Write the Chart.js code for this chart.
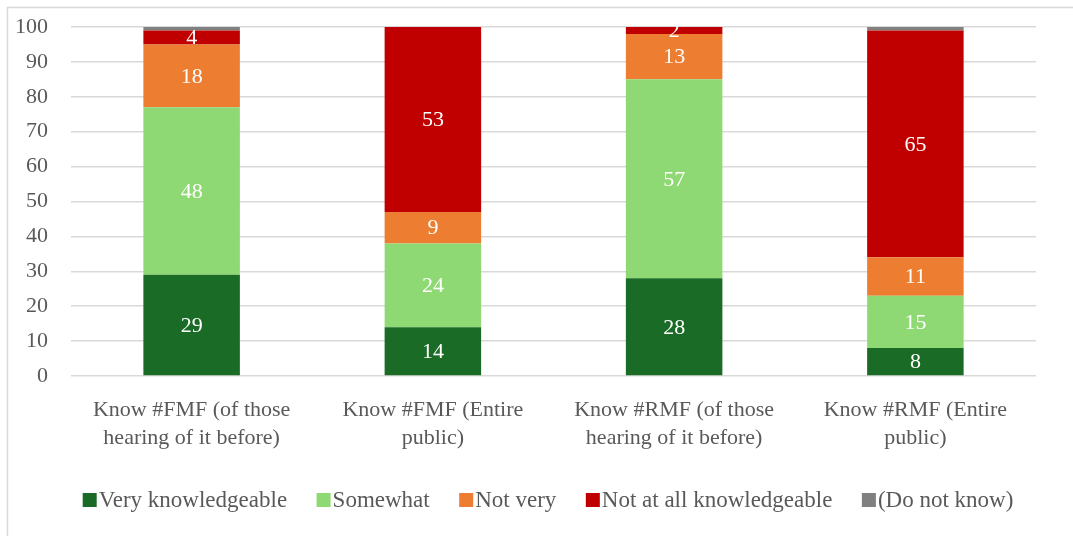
<!DOCTYPE html>
<html>
<head>
<meta charset="utf-8">
<script src="https://cdn.jsdelivr.net/npm/chart.js@4"></script>
<style>
  html, body { margin: 0; padding: 0; background: #ffffff; }
  canvas { display: block; }
</style>
</head>
<body>
<canvas id="chart" width="1073" height="536"></canvas>
<script>
// Knowledge of #FMF / #RMF, stacked percentages
const categories = [
  ["Know #FMF (of those", "hearing of it before)"],
  ["Know #FMF (Entire", "public)"],
  ["Know #RMF (of those", "hearing of it before)"],
  ["Know #RMF (Entire", "public)"]
];
const seriesNames = ["Very knowledgeable", "Somewhat", "Not very", "Not at all knowledgeable", "(Do not know)"];
const veryKnowledgeable = [29, 14, 28, 8];
const somewhat = [48, 24, 57, 15];
const notVery = [18, 9, 13, 11];
const notAtAll = [4, 53, 2, 65];
const doNotKnow = [1, 0, 0.5, 1];
const yMin = 0, yMax = 100, yStep = 10;

const seriesValues = [veryKnowledgeable, somewhat, notVery, notAtAll, doNotKnow];
const seriesColors = ["#1a6b25", "#8fd974", "#ed7d31", "#c00000", "#808080"];
const labelledSeries = [0, 1, 2, 3];

const FONT = '"Liberation Serif", "Times New Roman", serif';
const TEXT = "#595959";
const FONT_SIZE = 22;

// Outer frame lines
const framePlugin = {
  id: "frame",
  beforeDraw(chart) {
    const ctx = chart.ctx;
    ctx.save();
    ctx.strokeStyle = "#d9d9d9";
    ctx.lineWidth = 1.5;
    ctx.beginPath();
    ctx.moveTo(7.5, chart.height);
    ctx.lineTo(7.5, 7.5);
    ctx.lineTo(chart.width, 7.5);
    ctx.stroke();
    ctx.restore();
  }
};

// Value labels centred in each stacked segment
const valueLabels = {
  id: "valueLabels",
  afterDatasetsDraw(chart) {
    const ctx = chart.ctx;
    ctx.save();
    ctx.fillStyle = "#ffffff";
    ctx.font = FONT_SIZE + "px " + FONT;
    ctx.textAlign = "center";
    ctx.textBaseline = "middle";
    labelledSeries.forEach(di => {
      const meta = chart.getDatasetMeta(di);
      meta.data.forEach((bar, i) => {
        const v = chart.data.datasets[di].data[i];
        if (!v) return;
        ctx.fillText(String(v), bar.x, (bar.y + bar.base) / 2 + 1);
      });
    });
    ctx.restore();
  }
};

// Legend row along the bottom
const bottomLegend = {
  id: "bottomLegend",
  afterDraw(chart) {
    const ctx = chart.ctx;
    const box = 14, gapText = 2, gapItem = 29.5, cy = 500;
    ctx.save();
    ctx.font = "23px " + FONT;
    ctx.textBaseline = "middle";
    const items = chart.data.datasets.map(ds => ({
      text: ds.label, color: ds.backgroundColor,
      w: box + gapText + ctx.measureText(ds.label).width
    }));
    const total = items.reduce((s, it) => s + it.w, 0) + gapItem * (items.length - 1);
    let x = 548 - total / 2;
    items.forEach(it => {
      ctx.fillStyle = it.color;
      ctx.fillRect(x, cy - box / 2, box, box);
      ctx.fillStyle = TEXT;
      ctx.textAlign = "left";
      ctx.fillText(it.text, x + box + gapText, cy + 1);
      x += it.w + gapItem;
    });
    ctx.restore();
  }
};

const datasets = seriesNames.map((name, i) => ({
  label: name,
  data: seriesValues[i],
  backgroundColor: seriesColors[i],
  borderWidth: 0,
  categoryPercentage: 1.0,
  barPercentage: 0.4
}));

new Chart(document.getElementById("chart"), {
  type: "bar",
  data: { labels: categories, datasets },
  options: {
    responsive: false,
    animation: false,
    layout: { padding: { left: 0, right: 37, top: 27, bottom: 70 } },
    plugins: {
      legend: { display: false },
      tooltip: { enabled: false }
    },
    scales: {
      x: {
        stacked: true,
        grid: { display: false },
        border: { display: false },
        ticks: {
          color: TEXT,
          font: { family: FONT, size: FONT_SIZE, lineHeight: 1.27 },
          padding: 12,
          maxRotation: 0,
          autoSkip: false
        },
        afterFit(scale) { scale.height = 90; scale.paddingLeft = 0; scale.paddingRight = 0; }
      },
      y: {
        stacked: true,
        min: yMin,
        max: yMax,
        grid: { color: "#d9d9d9", lineWidth: 1.5, drawTicks: false },
        border: { display: false },
        ticks: {
          stepSize: yStep,
          color: TEXT,
          font: { family: FONT, size: FONT_SIZE },
          padding: 23
        },
        afterFit(scale) { scale.width = 71; scale.paddingTop = 0; scale.paddingBottom = 0; }
      }
    }
  },
  plugins: [framePlugin, valueLabels, bottomLegend]
});
</script>
</body>
</html>
